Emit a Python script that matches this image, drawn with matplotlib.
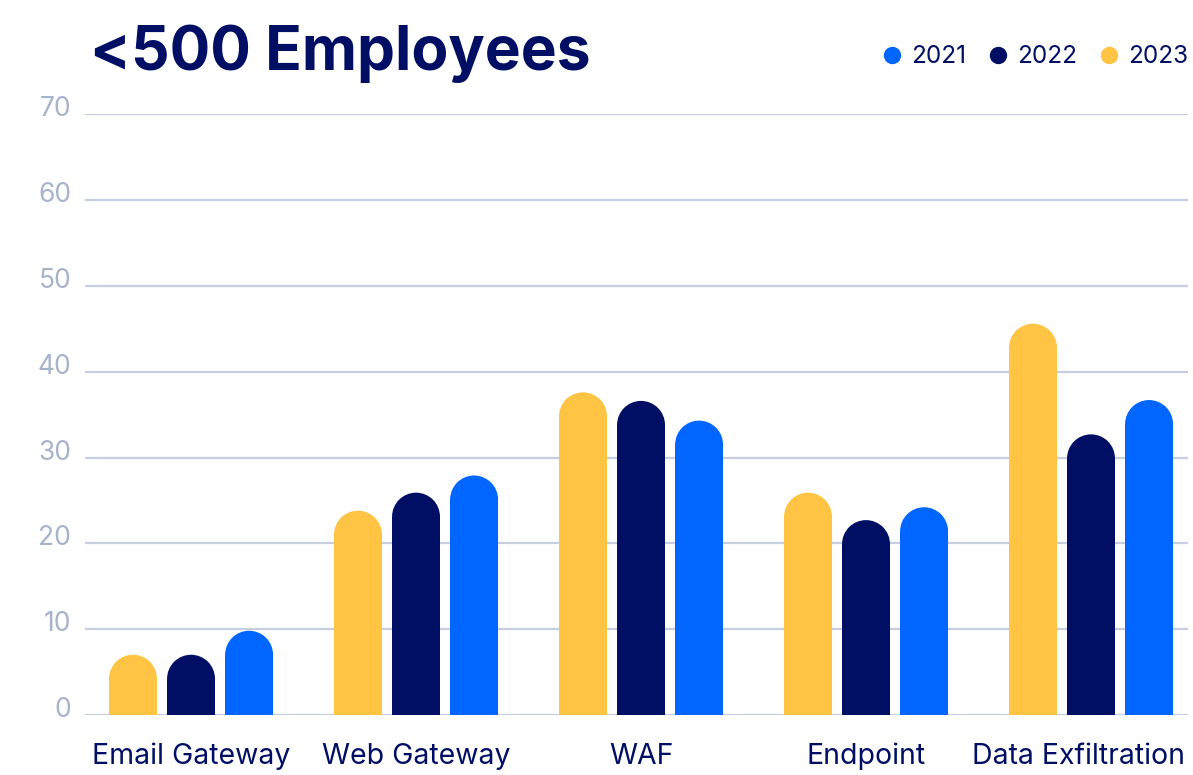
import matplotlib
matplotlib.use("Agg")
import matplotlib.pyplot as plt
import matplotlib.transforms as mtransforms
from matplotlib.patches import Ellipse
from matplotlib.lines import Line2D
import numpy as np

categories = ["Email Gateway", "Web Gateway", "WAF", "Endpoint", "Data Exfiltration"]
years = ["2023", "2022", "2021"]
v2023 = [7.0, 23.8, 37.6, 25.9, 45.6]
v2022 = [7.0, 25.9, 36.6, 22.7, 32.7]
v2021 = [9.8, 27.9, 34.3, 24.2, 36.7]

YELLOW = "#FFC444"
NAVY = "#000F64"
BLUE = "#0066FF"
GRID = "#C8CEE2"
TICK = "#A7B3CB"

plt.rcParams["font.family"] = ["Inter", "DejaVu Sans"]

fig = plt.figure(figsize=(11.93, 7.75), dpi=100)
ax = fig.add_axes([0.0713, 0.0777, 0.9245, 0.7746])

x = np.arange(len(categories))
width = 0.213
step = 0.258
ax.set_xlim(-0.471, 4.431)
ax.set_ylim(0, 70)

# pixel scale, so the rounded caps come out as true semicircles
fig.canvas.draw()
bbox = ax.get_window_extent()
px_per_x = bbox.width / (ax.get_xlim()[1] - ax.get_xlim()[0])
px_per_y = bbox.height / (ax.get_ylim()[1] - ax.get_ylim()[0])
r_px = width * px_per_x / 2
ry = r_px / px_per_y

for i, (vals, color) in enumerate([(v2023, YELLOW), (v2022, NAVY), (v2021, BLUE)]):
    xs = x + (i - 1) * step
    for xi, v in zip(xs, vals):
        ax.bar(xi, v - ry, width=width, color=color, linewidth=0, zorder=3)
        ax.add_patch(Ellipse((xi, v - ry), width, 2 * ry, color=color,
                             linewidth=0, zorder=3))

ax.set_yticks(range(0, 71, 10))
ax.grid(axis="y", color=GRID, linewidth=1.6, zorder=0)
ax.set_axisbelow(True)
for s in ax.spines.values():
    s.set_visible(False)
ax.tick_params(axis="y", length=0, pad=10, labelsize=19, labelcolor=TICK)
ax.tick_params(axis="x", length=0, pad=20, labelsize=20.5, labelcolor=NAVY)
ax.set_xticks(x)
ax.set_xticklabels(categories)

# lift the y labels a little above their grid lines
lift = mtransforms.ScaledTranslation(0, 8 / 100, fig.dpi_scale_trans)
for lab in ax.get_yticklabels():
    lab.set_transform(lab.get_transform() + lift)

# keep the last category label inside the figure
fig.canvas.draw()
last = ax.get_xticklabels()[-1]
ext = last.get_window_extent()
overflow = ext.x1 - (fig.bbox.width - 8)
if overflow > 0:
    shift = mtransforms.ScaledTranslation(-overflow / 100, 0, fig.dpi_scale_trans)
    last.set_transform(last.get_transform() + shift)

fig.text(0.0755, 0.9097, "<500 Employees", fontsize=43.5, fontweight="bold",
         color=NAVY, va="baseline", ha="left")

handles = [Line2D([], [], marker="o", linestyle="none", markersize=12.5,
                  markerfacecolor=c, markeredgewidth=0)
           for c in (BLUE, NAVY, YELLOW)]
leg = fig.legend(handles, ["2021", "2022", "2023"], loc="center right",
                 bbox_to_anchor=(0.996, 0.927), ncol=3, frameon=False,
                 fontsize=17.5, handletextpad=0.3, columnspacing=0.8,
                 handlelength=1.0, borderpad=0, borderaxespad=0)
for t in leg.get_texts():
    t.set_color(NAVY)

fig.savefig("out.png", dpi=100)
